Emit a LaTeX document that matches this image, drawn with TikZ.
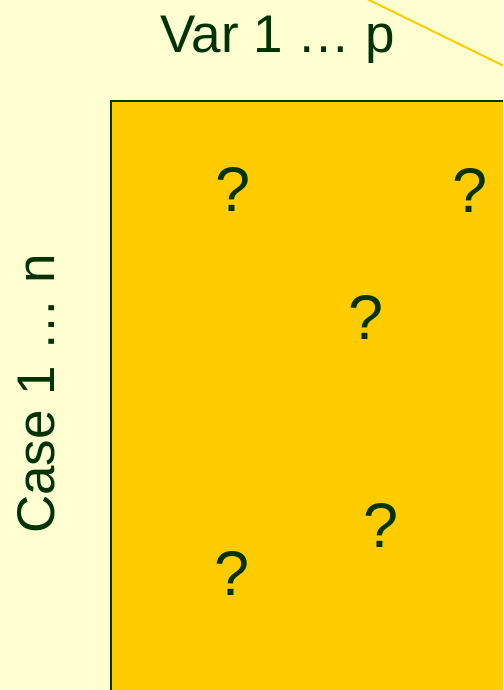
\documentclass[tikz,border=0pt]{standalone}
\usepackage{fontspec}
\setmainfont{Liberation Sans}
\definecolor{bgyellow}{HTML}{FFFFD2}
\definecolor{gold}{HTML}{FFCC00}
\definecolor{dkgreen}{HTML}{003300}
\tikzset{
  lbl/.style={inner sep=0pt, text=dkgreen, font=\fontsize{53}{60}\selectfont, anchor=base},
  qm/.style={inner sep=0pt, text=dkgreen, font=\fontsize{63}{70}\selectfont, anchor=center},
}
\begin{document}
\begin{tikzpicture}[x=1pt,y=-1pt]
\useasboundingbox (0,0) rectangle (503,690);
\clip (0,0) rectangle (503,690);
\fill[bgyellow] (0,0) rectangle (503,690);
\coordinate (l1) at (365,-2);
\coordinate (l2) at (506,67);
\draw[gold, line width=2pt] (l1) -- (l2);
\draw[dkgreen, fill=gold, line width=2pt] (111,101) rectangle (520,710);
\node[lbl] (var) at (277.5,53) {Var 1 … p};
\node[lbl, rotate=90] (case) at (54,394) {Case 1 … n};
\node[qm] (q1) at (233.5,190) {?};
\node[qm] (q2) at (470,190.5) {?};
\node[qm] (q3) at (366.5,318) {?};
\node[qm] (q4) at (381,525) {?};
\node[qm] (q5) at (232.5,573) {?};
\end{tikzpicture}
\end{document}
